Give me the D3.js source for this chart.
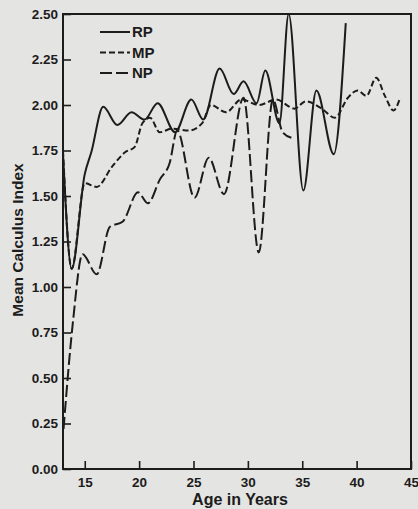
<!DOCTYPE html>
<html>
<head>
<meta charset="utf-8">
<script src="https://cdn.jsdelivr.net/npm/d3@7"></script>
<style>
  html, body { margin: 0; padding: 0; background: #e4e4e2; }
  svg { display: block; }
  .tick text { font-family: "Liberation Sans", Arial, sans-serif; font-weight: bold; font-size: 13.5px; fill: #1c1c1c; }
  .tick line { stroke: #1c1c1c; stroke-width: 1.6; }
</style>
</head>
<body>
<svg id="chart" width="418" height="509"></svg>
<script>
// values (age in years, mean calculus index)
const rpAges   = [13.0, 13.8, 15.0, 15.6, 16.7, 18.0, 19.3, 20.5, 21.7, 23.3, 24.8, 25.9, 27.4, 28.7, 29.6, 30.8, 31.6, 32.9, 33.75, 35.1, 36.3, 37.9, 39.0];
const rpValues = [1.73, 1.10, 1.62, 1.74, 1.99, 1.89, 1.96, 1.92, 2.01, 1.85, 2.03, 1.92, 2.20, 2.06, 2.13, 2.01, 2.19, 1.90, 2.50, 1.53, 2.08, 1.73, 2.45];

const mpAges   = [13.0, 13.8, 15.0, 16.1, 17.5, 18.7, 19.6, 20.3, 21.0, 21.9, 23.0, 24.6, 25.8, 26.6, 28.0, 29.4, 31.0, 32.6, 34.3, 35.3, 36.8, 38.0, 39.2, 40.1, 40.9, 41.8, 42.6, 43.4, 44.0];
const mpValues = [1.75, 1.10, 1.57, 1.55, 1.66, 1.74, 1.77, 1.90, 1.93, 1.85, 1.87, 1.86, 1.90, 2.00, 1.96, 2.03, 2.00, 2.03, 1.98, 2.02, 1.98, 1.93, 2.04, 2.08, 2.05, 2.15, 2.05, 1.97, 2.04];

const npAges   = [13.05, 13.9, 14.8, 16.1, 17.3, 18.5, 19.9, 20.8, 21.9, 22.8, 23.5, 25.1, 26.4, 27.8, 29.6, 31.0, 32.3, 33.2, 34.0];
const npValues = [0.22, 0.80, 1.18, 1.07, 1.33, 1.36, 1.52, 1.46, 1.59, 1.68, 1.86, 1.49, 1.71, 1.51, 2.04, 1.19, 2.03, 1.85, 1.82];

const seriesNames = ["RP", "MP", "NP"];
const dashes = { RP: null, MP: "6,3", NP: "12,4" };

const xTicks = [15, 20, 25, 30, 35, 40, 45];
const yTicks = [0, 0.25, 0.5, 0.75, 1, 1.25, 1.5, 1.75, 2, 2.25, 2.5];

const series = [
  { name: "RP", ages: rpAges, values: rpValues },
  { name: "MP", ages: mpAges, values: mpValues },
  { name: "NP", ages: npAges, values: npValues }
];

const svg = d3.select("#chart");
const plotLeft = 63, plotRight = 411, plotTop = 14, plotBottom = 469;
const ink = "#1c1c1c";

const x = d3.scaleLinear().domain([13, 45]).range([plotLeft, plotRight]);
const y = d3.scaleLinear().domain([0, 2.5]).range([plotBottom, plotTop]);

// axes, ticks pointing inward
const yAxis = svg.append("g")
  .attr("transform", `translate(${plotLeft},0)`)
  .call(d3.axisLeft(y).tickValues(yTicks).tickFormat(d3.format(".2f")).tickSize(-8).tickPadding(5));
yAxis.select(".domain").remove();

const xAxis = svg.append("g")
  .attr("transform", `translate(0,${plotBottom})`)
  .call(d3.axisBottom(x).tickValues(xTicks).tickSize(-8).tickPadding(8));
xAxis.select(".domain").remove();

// frame
svg.append("rect")
  .attr("x", plotLeft).attr("y", plotTop)
  .attr("width", plotRight - plotLeft).attr("height", plotBottom - plotTop)
  .attr("fill", "none").attr("stroke", ink).attr("stroke-width", 2);

const line = d3.line()
  .x(d => x(d[0]))
  .y(d => y(d[1]))
  .curve(d3.curveMonotoneX);

svg.append("g").selectAll("path")
  .data(series)
  .join("path")
  .attr("d", s => line(s.ages.map((a, i) => [a, s.values[i]])))
  .attr("fill", "none")
  .attr("stroke", ink)
  .attr("stroke-width", 2)
  .attr("stroke-dasharray", s => dashes[s.name]);

// legend
const legend = svg.append("g").attr("transform", "translate(100,32)");
seriesNames.forEach((name, i) => {
  const g = legend.append("g").attr("transform", `translate(0,${i * 20.5})`);
  g.append("line")
    .attr("x1", 0).attr("x2", 30)
    .attr("stroke", ink).attr("stroke-width", 2)
    .attr("stroke-dasharray", dashes[name]);
  g.append("text")
    .attr("x", 32).attr("dy", "0.36em")
    .attr("font-family", "Liberation Sans, Arial, sans-serif")
    .attr("font-weight", "bold").attr("font-size", 15)
    .attr("fill", ink)
    .text(name);
});

// axis titles
svg.append("text")
  .attr("transform", `translate(23,240) rotate(-90)`)
  .attr("text-anchor", "middle")
  .attr("font-family", "Liberation Sans, Arial, sans-serif")
  .attr("font-weight", "bold").attr("font-size", 15.5)
  .attr("fill", ink)
  .text("Mean Calculus Index");

svg.append("text")
  .attr("x", 240).attr("y", 505)
  .attr("text-anchor", "middle")
  .attr("font-family", "Liberation Sans, Arial, sans-serif")
  .attr("font-weight", "bold").attr("font-size", 16)
  .attr("fill", ink)
  .text("Age in Years");
</script>
</body>
</html>
